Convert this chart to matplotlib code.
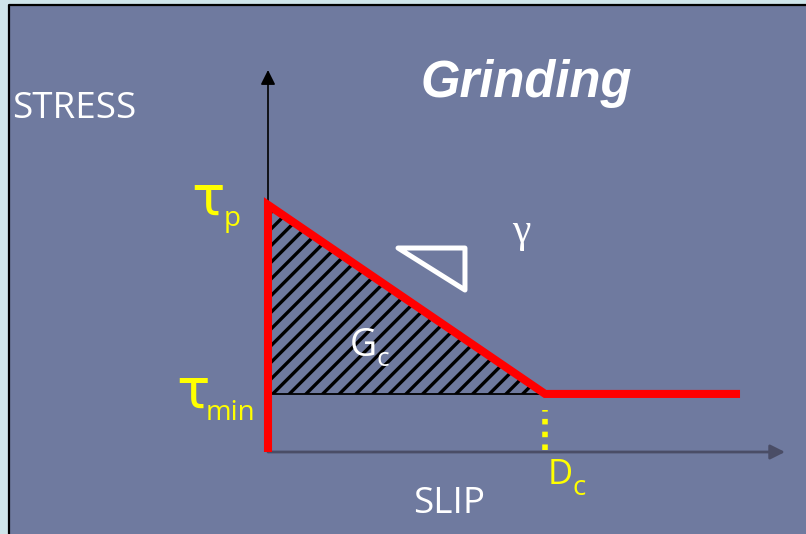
# Diagrama de friccion: esfuerzo vs deslizamiento (Grinding)
import matplotlib.pyplot as plt
from matplotlib.patches import Polygon, Rectangle

# Valores del diagrama (unidades relativas del eje)
Dc = 0.536         # distancia critica de deslizamiento
slip_end = 0.913   # fin de la linea roja
tau_p = 0.647      # esfuerzo pico
tau_min = 0.152    # esfuerzo minimo

slip_curve = [0, 0, Dc, slip_end]
stress_curve = [0, tau_p, tau_min, tau_min]

# triangulo de pendiente (gamma)
slope_x = [0.2515, 0.381, 0.381]
slope_y = [0.534, 0.534, 0.424]

bg = '#6f7a9f'
plt.rcParams['hatch.linewidth'] = 2.4

fig = plt.figure(figsize=(8.06, 5.34), dpi=100)
fig.patch.set_facecolor('#cfe5ea')

# fondo en pixeles
back = fig.add_axes([0, 0, 1, 1])
back.set_xlim(0, 806)
back.set_ylim(534, 0)
back.axis('off')
back.add_patch(Rectangle((10, 6), 800, 530, facecolor=bg, edgecolor='none'))
back.plot([9, 9, 806], [540, 5, 5], color='black', lw=1.6)

# ejes del diagrama
ax = fig.add_axes([268 / 806, 82 / 534, 517 / 806, 382 / 534])
ax.set_xlim(0, 1)
ax.set_ylim(0, 1)
ax.axis('off')

# area Gc rayada
tri = Polygon([(0, tau_min), (0, tau_p), (Dc, tau_min)], closed=True,
              facecolor='none', edgecolor='black', hatch='//', lw=0)
ax.add_patch(tri)
ax.plot([0, Dc], [tau_min, tau_min], color='black', lw=1.3)

# ejes con flechas
ax.annotate('', xy=(0, 1), xytext=(0, 0), annotation_clip=False,
            arrowprops=dict(arrowstyle='-|>', color='black', lw=1.2,
                            mutation_scale=22, shrinkA=0, shrinkB=0))
ax.annotate('', xy=(1, 0), xytext=(0, 0), annotation_clip=False,
            arrowprops=dict(arrowstyle='-|>', color='#4a4d66', lw=2,
                            mutation_scale=22, shrinkA=0, shrinkB=0))

# curva de friccion
ax.plot(slip_curve, stress_curve, color='red', lw=5.8, zorder=5,
        solid_joinstyle='miter', solid_capstyle='butt', clip_on=False)

# linea punteada en Dc
ax.plot([Dc, Dc], [0.005, 0.11], color='yellow', lw=4,
        linestyle=(0, (1, 1.3)), dash_capstyle='butt')

# triangulo de pendiente
ax.add_patch(Polygon(list(zip(slope_x, slope_y)), closed=True, fill=False,
                     edgecolor='white', lw=3.6, joinstyle='round'))

# textos (capa superior en pixeles)
txt = fig.add_axes([0, 0, 1, 1])
txt.set_xlim(0, 806)
txt.set_ylim(534, 0)
txt.axis('off')

sans = 'Open Sans'
txt.text(526, 97, 'Grinding', color='white', fontsize=36.5,
         family='Liberation Sans', weight='bold', style='italic',
         ha='center', va='baseline')
txt.text(12, 118, 'STRESS', color='white', fontsize=26.5, family=sans,
         va='baseline')
txt.text(413, 513, 'SLIP', color='white', fontsize=26.5, family=sans,
         va='baseline')

txt.text(191, 215, 'τ', color='yellow', fontsize=40, family='DejaVu Sans',
         va='baseline')
txt.text(224, 226, 'p', color='yellow', fontsize=20, family=sans,
         va='baseline')
txt.text(176, 408, 'τ', color='yellow', fontsize=40, family='DejaVu Sans',
         va='baseline')
txt.text(206, 420, 'min', color='yellow', fontsize=20, family=sans,
         va='baseline')

txt.text(350, 356, 'G', color='white', fontsize=27, family=sans,
         va='baseline')
txt.text(376, 366, 'c', color='white', fontsize=19, family=sans,
         va='baseline')

txt.text(548, 484, 'D', color='yellow', fontsize=25, family=sans,
         va='baseline')
txt.text(573, 495, 'c', color='yellow', fontsize=20, family=sans,
         va='baseline')

txt.text(512, 242, 'γ', color='white', fontsize=30, family='Liberation Serif',
         va='baseline')

plt.savefig('out.png', dpi=100, facecolor=fig.get_facecolor())
